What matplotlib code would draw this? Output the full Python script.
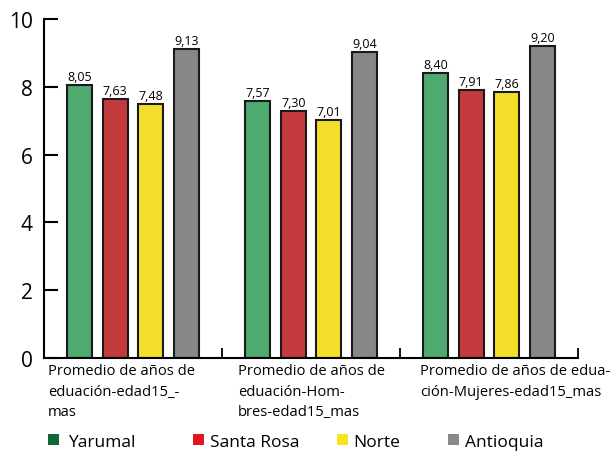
import matplotlib.pyplot as plt
from matplotlib.patches import Rectangle
import numpy as np

plt.rcParams['font.family'] = ['Open Sans', 'DejaVu Sans']

# data
categories = ["Promedio de años de\neduación-edad15_-\nmas",
              "Promedio de años de\neduación-Hom-\nbres-edad15_mas",
              "Promedio de años de edua-\nción-Mujeres-edad15_mas"]
series = ["Yarumal", "Santa Rosa", "Norte", "Antioquia"]
yarumal = [8.05, 7.57, 8.40]
santa_rosa = [7.63, 7.30, 7.91]
norte = [7.48, 7.01, 7.86]
antioquia = [9.13, 9.04, 9.20]
values = [yarumal, santa_rosa, norte, antioquia]

bar_colors = ["#4eaa6f", "#c23a3b", "#f3df2b", "#878787"]
legend_colors = ["#0d6a36", "#e2141c", "#f5e51f", "#8a8a8a"]

fig = plt.figure(figsize=(6.14, 4.56), dpi=100)
ax = fig.add_axes([0.0717, 0.213, 0.8697, 0.743])

x = np.arange(len(categories))
offsets = [-0.3, -0.1, 0.1, 0.3]
for vals, off, col in zip(values, offsets, bar_colors):
    bars = ax.bar(x + off, vals, width=0.14, color=col, edgecolor="#1a1a1a", linewidth=1.5)
    for b, v in zip(bars, vals):
        ax.text(b.get_x() + b.get_width() / 2, v + 0.06, f"{v:.2f}".replace(".", ","),
                ha="center", va="bottom", fontsize=9)

ax.set_xlim(-0.5, 2.5)
ax.set_ylim(0, 10)
ax.set_yticks([0, 2, 4, 6, 8, 10])
ax.tick_params(axis="y", labelsize=15, direction="in", length=10, width=1.5, pad=8)
ax.set_xticks([])
ax.set_xticks([0.5, 1.5, 2.5], minor=True)
ax.tick_params(axis="x", which="minor", direction="in", length=7, width=1.3)
for s in ["top", "right"]:
    ax.spines[s].set_visible(False)
for s in ["left", "bottom"]:
    ax.spines[s].set_linewidth(1.5)

# category labels, left aligned under each group
label_x = [48, 238, 420]
for lx, cat in zip(label_x, categories):
    fig.text(lx / 614, 1 - 364 / 456, cat, ha="left", va="top", fontsize=10.6, linespacing=1.5)

# legend
patch_x = [48, 193, 337, 448]
text_x = [68, 210, 353, 465]
for px, tx, name, col in zip(patch_x, text_x, series, legend_colors):
    fig.patches.append(Rectangle((px / 614, 1 - 446 / 456), 11 / 614, 11 / 456,
                                 transform=fig.transFigure, facecolor=col, edgecolor="none"))
    fig.text(tx / 614, 1 - 443 / 456, name, ha="left", va="center", fontsize=12.5)

fig.savefig("out.png", dpi=100)
